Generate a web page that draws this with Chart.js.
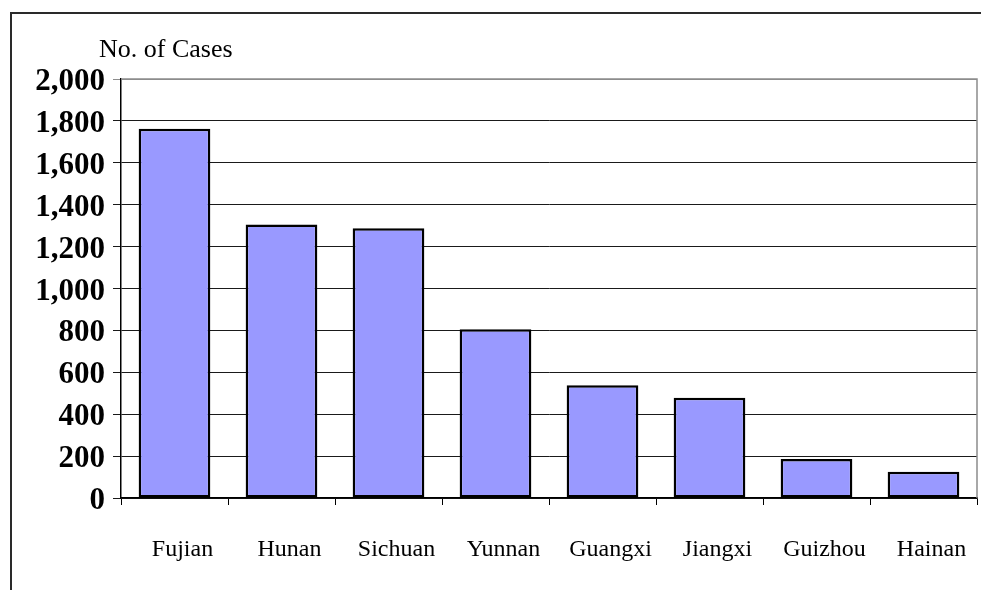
<!DOCTYPE html>
<html>
<head>
<meta charset="utf-8">
<script src="https://cdn.jsdelivr.net/npm/chart.js@4.4.1/dist/chart.umd.min.js"></script>
<style>
  html, body { margin: 0; padding: 0; background: #fff; }
  #wrap { position: relative; width: 981px; height: 590px; overflow: hidden; }
  #frame {
    position: absolute; left: 10px; top: 12px; width: 990px; height: 600px;
    border-top: 2px solid #2a2a2a; border-left: 2px solid #2a2a2a;
  }
  #chart { position: absolute; left: 0; top: 0; }
</style>
</head>
<body>
<div id="wrap">
  <div id="frame"></div>
  <canvas id="chart" width="981" height="590"></canvas>
</div>
<script>
// cases by province
const provinces = ["Fujian", "Hunan", "Sichuan", "Yunnan", "Guangxi", "Jiangxi", "Guizhou", "Hainan"];
const cases = [1762, 1305, 1287, 806, 538, 478, 186, 125];
const yTickValues = [0, 200, 400, 600, 800, 1000, 1200, 1400, 1600, 1800, 2000];
const yTitle = "No. of Cases";

const serif = "'Liberation Serif', 'Times New Roman', serif";

// gray box round the plot area, plus the axis caption above it
const plotFrame = {
  id: "plotFrame",
  beforeDatasetsDraw(chart) {
    const { ctx, chartArea: a } = chart;
    ctx.save();
    ctx.strokeStyle = "#8c8c8c";
    ctx.lineWidth = 1.5;
    ctx.beginPath();
    ctx.moveTo(a.left, a.top);
    ctx.lineTo(a.right, a.top);
    ctx.lineTo(a.right, a.bottom);
    ctx.stroke();
    ctx.restore();
  },
  afterDraw(chart) {
    const { ctx, chartArea: a } = chart;
    ctx.save();
    ctx.fillStyle = "#000";
    ctx.font = "26px " + serif;
    ctx.textAlign = "left";
    ctx.textBaseline = "alphabetic";
    ctx.fillText(yTitle, a.left - 22, a.top - 22);
    ctx.restore();
  }
};

new Chart(document.getElementById("chart"), {
  type: "bar",
  data: {
    labels: provinces,
    datasets: [{
      data: cases,
      backgroundColor: "#9999ff",
      borderColor: "#000",
      borderWidth: 2.5,
      borderSkipped: false,
      barPercentage: 0.67,
      categoryPercentage: 1
    }]
  },
  options: {
    responsive: false,
    animation: false,
    layout: { padding: { top: 79, right: 4, left: 0, bottom: 0 } },
    plugins: {
      legend: { display: false },
      tooltip: { enabled: false }
    },
    scales: {
      x: {
        offset: true,
        grid: {
          offset: true,
          drawOnChartArea: false,
          drawTicks: true,
          tickLength: 7,
          color: "#000"
        },
        border: { color: "#000", width: 1.5 },
        ticks: {
          color: "#000",
          font: { family: serif, size: 24 },
          padding: 30,
          labelOffset: 8,
          autoSkip: false,
          maxRotation: 0
        },
        afterFit(scale) {
          scale.height = 92;
          scale.paddingLeft = 0;
          scale.paddingRight = 0;
        }
      },
      y: {
        min: 0,
        max: 2000,
        afterBuildTicks(scale) {
          scale.ticks = yTickValues.map(v => ({ value: v }));
        },
        grid: {
          color: ctx => (ctx.tick && ctx.tick.value === 2000 ? "#8c8c8c" : "#1a1a1a"),
          lineWidth: 1,
          tickLength: 8
        },
        border: { color: "#000", width: 1.5 },
        ticks: {
          color: "#000",
          font: { family: serif, size: 31, weight: "bold" },
          padding: 8,
          labelOffset: 3,
          callback: v => v.toLocaleString("en-US")
        },
        afterFit(scale) { scale.width = 121; }
      }
    }
  },
  plugins: [plotFrame]
});
</script>
</body>
</html>
